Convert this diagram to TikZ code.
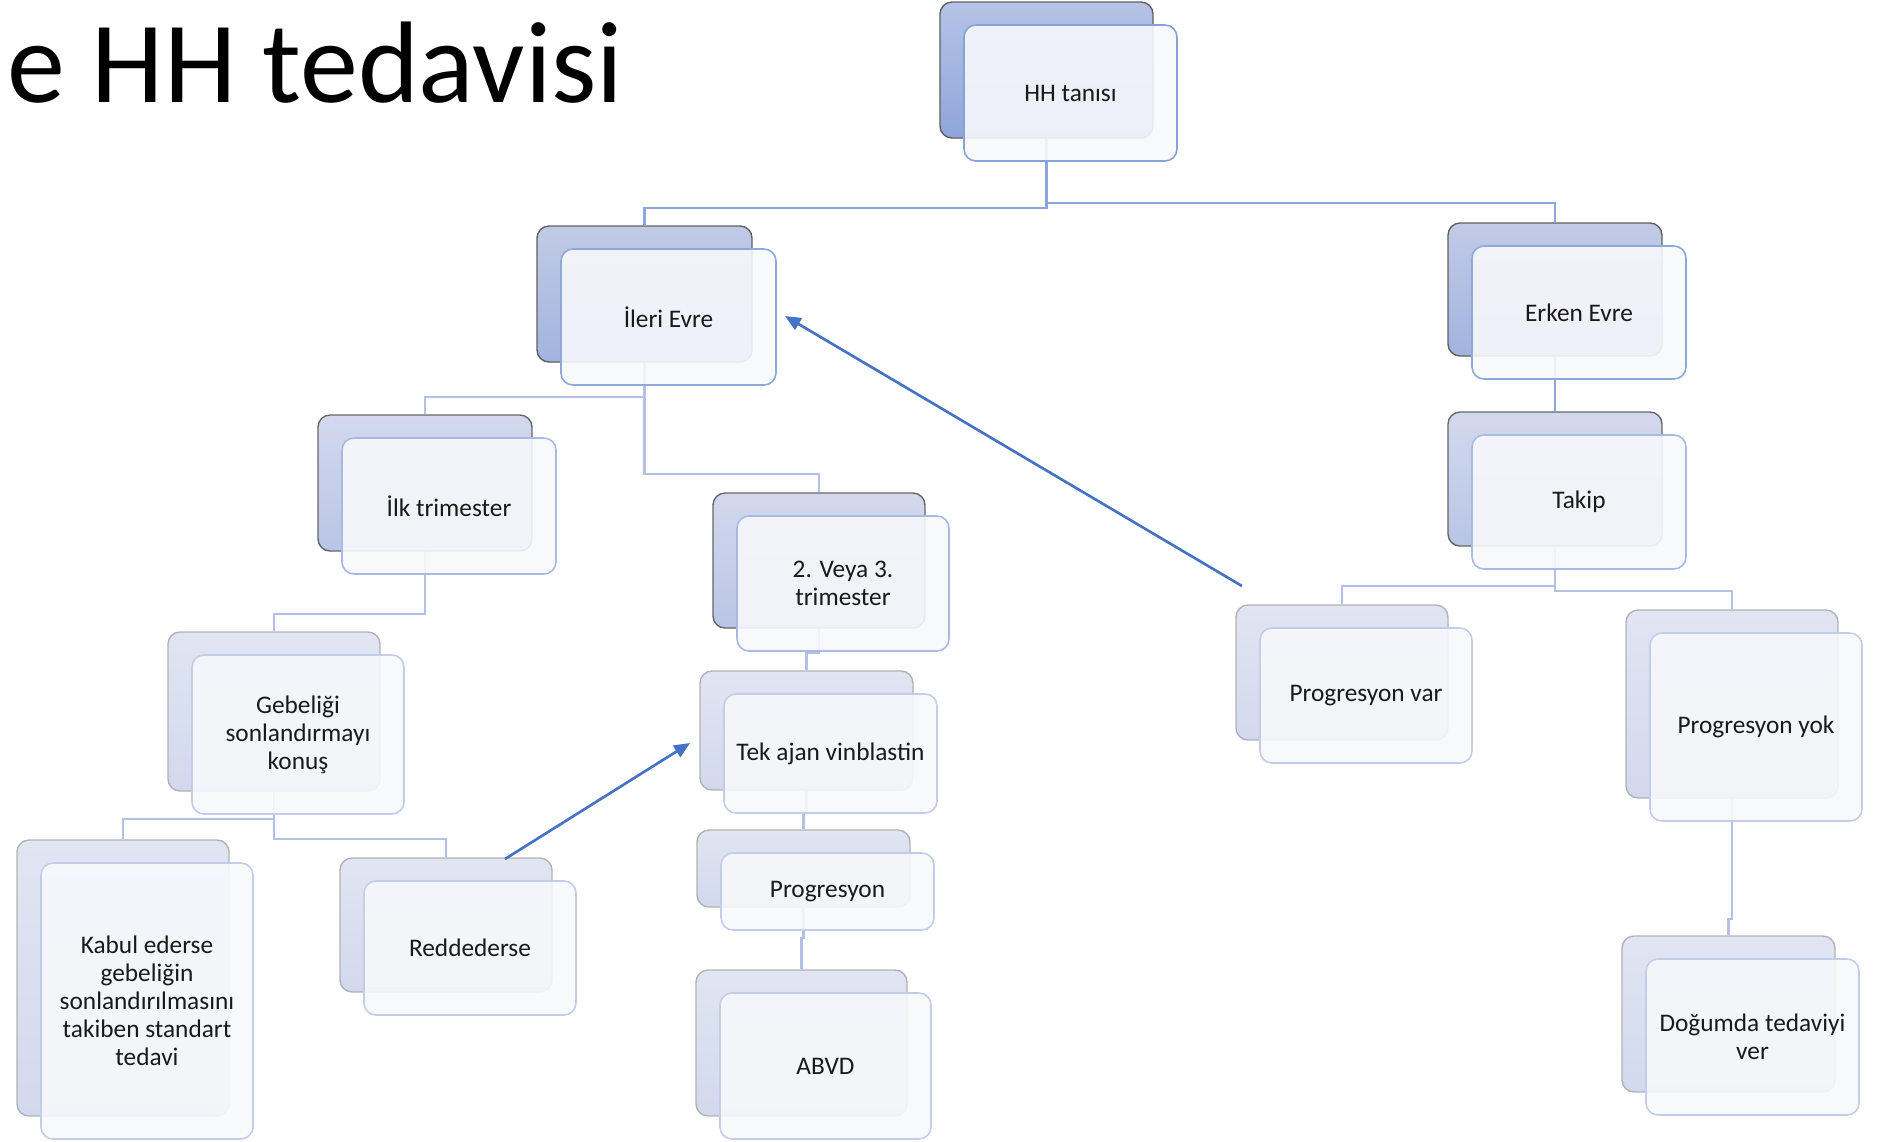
\documentclass[tikz,border=0pt]{standalone}
\usepackage{fontspec}
\setmainfont{Carlito}
\usetikzlibrary{arrows.meta,backgrounds}

\definecolor{lineA}{HTML}{8EA5D9}
\definecolor{lineB}{HTML}{B3C1E5}
\definecolor{arrowblue}{HTML}{4472C4}
\definecolor{frontfill}{HTML}{F7F8FB}

\tikzset{
  backbox/.style={rectangle, rounded corners=0.12cm, draw=gray!75!black, line width=0.4pt},
  frontbox/.style={rectangle, rounded corners=0.12cm, draw=lineA, line width=0.45pt,
    fill=frontfill, fill opacity=0.9, text opacity=1, align=center, inner sep=2pt,
    font=\fontsize{7.2}{8}\selectfont, text=black!90},
  lvone/.style={top color=HTML-B6C3E6, bottom color=HTML-8FA5DA},
  lvtwo/.style={top color=HTML-C1CBE7, bottom color=HTML-A2B3DE},
  lvthree/.style={top color=HTML-D2D9ED, bottom color=HTML-B9C5E6, draw=gray!80!black},
  lvfour/.style={top color=HTML-E1E5F2, bottom color=HTML-D2D9EE, draw=gray!60},
  lvonefront/.style={draw=HTML-86A2D8},
  lvtwofront/.style={draw=HTML-8FA8DA},
  lvthreefront/.style={draw=HTML-A9BAE2},
  lvfourfront/.style={draw=HTML-C3CDEA},
  link/.style={draw=lineB, line width=0.6pt},
  toplink/.style={draw=lineA, line width=0.6pt},
  jump/.style={draw=arrowblue, line width=0.75pt, -{Triangle[length=4.5pt,width=3.8pt]}}
}
% colour names for the shadings
\definecolor{HTML-B6C3E6}{HTML}{B6C3E6}
\definecolor{HTML-8FA5DA}{HTML}{8FA5DA}
\definecolor{HTML-C1CBE7}{HTML}{C1CBE7}
\definecolor{HTML-A2B3DE}{HTML}{A2B3DE}
\definecolor{HTML-D2D9ED}{HTML}{D2D9ED}
\definecolor{HTML-B9C5E6}{HTML}{B9C5E6}
\definecolor{HTML-E1E5F2}{HTML}{E1E5F2}
\definecolor{HTML-D2D9EE}{HTML}{D2D9EE}
\definecolor{HTML-86A2D8}{HTML}{86A2D8}
\definecolor{HTML-8FA8DA}{HTML}{8FA8DA}
\definecolor{HTML-A9BAE2}{HTML}{A9BAE2}
\definecolor{HTML-C3CDEA}{HTML}{C3CDEA}

% #1 name, #2 level, #3 x, #4 y, #5 width, #6 height, #7 text
\newcommand{\hhbox}[7]{%
  \node[backbox, #2, minimum width=#5*0.01cm, minimum height=#6*0.01cm] (#1b) at (#3,#4) {};
  \node[frontbox, #2front, minimum width=#5*0.01cm, minimum height=#6*0.01cm] (#1) at (#3+24,#4+23) {#7};
}

\begin{document}
\begin{tikzpicture}[x=0.01cm, y=-0.01cm]
	\useasboundingbox (0,0) rectangle (1881,1141);
	
	% Title
	\node[anchor=base west, inner sep=0pt, font=\fontsize{33}{36}\selectfont] (title) at (7,102) {e HH tedavisi};
	
	% Boxes
	\hhbox{hh}{lvone}{1046.5}{70}{213}{136}{HH tanısı}
	\hhbox{ileri}{lvtwo}{644.5}{294}{215}{136}{İleri Evre}
	\hhbox{erken}{lvtwo}{1555}{289.5}{214}{133}{Erken Evre}
	\hhbox{ilk}{lvthree}{425}{483}{214}{136}{İlk trimester}
	\hhbox{ikiuc}{lvthree}{819}{560.5}{212}{135}{2. Veya 3.\\trimester}
	\hhbox{takip}{lvthree}{1555}{479}{214}{134}{Takip}
	\hhbox{gebe}{lvfour}{274}{711.5}{212}{159}{Gebeliği\\sonlandırmayı\\konuş}
	\hhbox{tek}{lvfour}{806.5}{730.5}{213}{119}{Tek ajan vinblastin}
	\hhbox{progvar}{lvfour}{1342}{672.5}{212}{135}{Progresyon var}
	\hhbox{progyok}{lvfour}{1732}{704}{212}{188}{Progresyon yok}
	\hhbox{kabul}{lvfour}{123}{978}{212}{276}{Kabul ederse\\gebeliğin\\sonlandırılmasını\\takiben standart\\tedavi}
	\hhbox{redd}{lvfour}{446}{925}{212}{134}{Reddederse}
	\hhbox{prog}{lvfour}{803.5}{868.5}{213}{77}{Progresyon}
	\hhbox{abvd}{lvfour}{801.5}{1043}{211}{146}{ABVD}
	\hhbox{dogum}{lvfour}{1728.5}{1014}{213}{156}{Doğumda tedaviyi\\ver}
	
	% Tree connectors
	\begin{scope}[on background layer]
		\draw[toplink] (hhb.south) -- ++(0,69) -| (ilerib.north);
		\draw[toplink] (hhb.south) -- ++(0,64) -| (erkenb.north);
		\draw[toplink] (erkenb.south) -- (takipb.north);
		\draw[link] (ilerib.south) -- ++(0,34) -| (ilkb.north);
		\draw[link] (ilerib.south) -- ++(0,111) -| (ikiucb.north);
		\draw[link] (ikiucb.south) -- ++(0,24) -| (tekb.north);
		\draw[link] (tekb.south) -- ++(0,20) -| (progb.north);
		\draw[link] (progb.south) -- ++(0,30) -| (abvdb.north);
		\draw[link] (ilkb.south) -- ++(0,62) -| (gebeb.north);
		\draw[link] (gebeb.south) -- ++(0,27) -| (kabulb.north);
		\draw[link] (gebeb.south) -- ++(0,47) -| (reddb.north);
		\draw[link] (takipb.south) -- ++(0,39) -| (progvarb.north);
		\draw[link] (takipb.south) -- ++(0,44) -| (progyokb.north);
		\draw[link] (progyokb.south) -- ++(0,120) -| (dogumb.north);
	\end{scope}
	
	% Blue arrows
	\coordinate (pvtail) at (1242,586);
	\coordinate (ilerihead) at (785,316);
	\coordinate (rdtail) at (505,859);
	\coordinate (tekhead) at (690,743);
	\draw[jump] (pvtail) -- (ilerihead);
	\draw[jump] (rdtail) -- (tekhead);
	
\end{tikzpicture}
\end{document}
